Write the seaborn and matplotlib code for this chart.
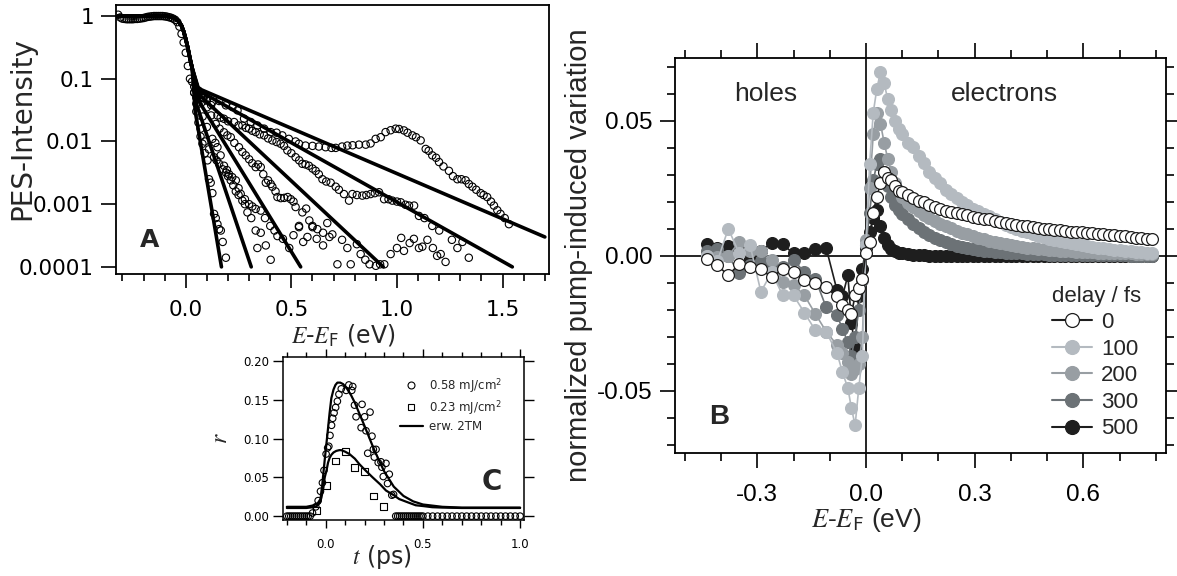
import numpy as np
import pandas as pd
import seaborn as sns
import matplotlib.pyplot as plt
from matplotlib.lines import Line2D
from matplotlib.ticker import FixedLocator, FixedFormatter, MultipleLocator, NullLocator

# ---------------- panel A : PES spectra (log scale) ----------------
top_E = [-0.32, -0.31, -0.30, -0.29, -0.28, -0.27, -0.26, -0.25, -0.24, -0.23, -0.22, -0.21,
         -0.20, -0.19, -0.18, -0.17, -0.16, -0.15, -0.14, -0.13, -0.12, -0.11, -0.10, -0.09,
         -0.08, -0.07, -0.06, -0.05, -0.04, -0.03, -0.02, -0.01, 0.00, 0.01, 0.02]
top_I = [1.05, 0.95, 0.91, 0.90, 0.89, 0.89, 0.89, 0.89, 0.90, 0.90, 0.91, 0.92,
         0.93, 0.95, 0.97, 0.98, 0.99, 1.0, 1.0, 1.0, 1.0, 1.0, 0.99, 0.98,
         0.96, 0.94, 0.91, 0.87, 0.80, 0.68, 0.52, 0.38, 0.26, 0.16, 0.10]

spec1_E = [0.03, 0.04, 0.05, 0.06, 0.07, 0.079, 0.09, 0.103, 0.11, 0.118, 0.126, 0.134, 0.142,
           0.15, 0.158, 0.166, 0.175, 0.19]
spec1_I = [0.09, 0.06, 0.03, 0.02, 0.012, 0.0092, 0.0065, 0.005, 0.0025, 0.0022, 0.0015, 0.0007,
           0.0006, 0.00048, 0.0004, 0.00038, 0.00025, 0.00014]

spec2_E = [0.04, 0.05, 0.07, 0.09, 0.11, 0.134, 0.146, 0.158, 0.175, 0.19, 0.2, 0.213, 0.225,
           0.237, 0.25, 0.268, 0.28, 0.292, 0.31, 0.331, 0.339, 0.355, 0.379, 0.402]
spec2_I = [0.06, 0.04, 0.016, 0.01, 0.0075, 0.0056, 0.005, 0.0044, 0.0036, 0.0032, 0.0028, 0.0024,
           0.002, 0.0016, 0.0014, 0.00114, 0.001, 0.00074, 0.0006, 0.00038, 0.0002, 0.00035,
           0.00022, 0.00013]

spec3_E = [0.05, 0.06, 0.08, 0.1, 0.126, 0.14, 0.15, 0.165, 0.181, 0.195, 0.205, 0.22, 0.237,
           0.25, 0.26, 0.28, 0.3, 0.315, 0.331, 0.355, 0.375, 0.4, 0.42, 0.434, 0.46, 0.49,
           0.51, 0.536, 0.556, 0.576, 0.6, 0.62, 0.65, 0.68]
spec3_I = [0.05, 0.04, 0.025, 0.017, 0.011, 0.0095, 0.0081, 0.006, 0.0041, 0.0035, 0.003, 0.0027,
           0.0024, 0.0018, 0.00146, 0.0012, 0.001, 0.00092, 0.00084, 0.00079, 0.0006, 0.00045,
           0.00038, 0.00031, 0.00028, 0.0002, 0.00032, 0.00043, 0.00025, 0.0003, 0.00043,
           0.00028, 0.00022, 0.0003]

spec4_E = [0.06, 0.08, 0.1, 0.12, 0.142, 0.16, 0.181, 0.197, 0.213, 0.23, 0.252, 0.268, 0.284,
           0.3, 0.315, 0.331, 0.342, 0.355, 0.367, 0.379, 0.39, 0.402, 0.41, 0.425, 0.434, 0.45,
           0.466, 0.482, 0.497, 0.51, 0.52, 0.536, 0.552, 0.57, 0.585, 0.6, 0.623, 0.65, 0.67,
           0.694, 0.718, 0.74, 0.765, 0.781, 0.81, 0.828, 0.85, 0.87, 0.9, 0.92, 0.94, 0.97,
           1.0, 1.02, 1.033, 1.06, 1.08, 1.104, 1.12, 1.144, 1.17, 1.19, 1.207, 1.23, 1.26,
           1.286, 1.31, 1.34]
spec4_I = [0.065, 0.05, 0.035, 0.026, 0.019, 0.016, 0.014, 0.0125, 0.0117, 0.0095, 0.0081,
           0.0068, 0.006, 0.0052, 0.0045, 0.0039, 0.0043, 0.0039, 0.003, 0.0022, 0.0024,
           0.0021, 0.0019, 0.0016, 0.0013, 0.00125, 0.00126, 0.0013, 0.0012, 0.0011, 0.0009,
           0.00045, 0.00074, 0.00085, 0.00055, 0.00045, 0.0004, 0.00035, 0.0005, 0.00033,
           0.00011, 0.00027, 0.0002, 0.00011, 0.00023, 0.00016, 0.00013, 0.00011, 0.000104,
           0.00011, 0.00011, 0.00016, 0.0002, 0.00029, 0.00018, 0.00024, 0.00028, 0.0002,
           0.00021, 0.00027, 0.0002, 0.00015, 0.00016, 0.00012, 0.00027, 0.0002, 0.00025,
           0.00014]

spec5_E = [0.07, 0.085, 0.10, 0.12, 0.15, 0.165, 0.181, 0.2, 0.229, 0.25, 0.268, 0.285, 0.3,
           0.315, 0.331, 0.35, 0.371, 0.39, 0.41, 0.43, 0.449, 0.465, 0.481, 0.5, 0.52, 0.537,
           0.552, 0.567, 0.583, 0.6, 0.615, 0.63, 0.647, 0.665, 0.686, 0.71, 0.725, 0.749,
           0.773, 0.789, 0.81, 0.836, 0.855, 0.875, 0.895, 0.915, 0.939, 0.96, 0.978, 1.0,
           1.018, 1.04, 1.057, 1.081, 1.104, 1.13, 1.167, 1.2]
spec5_I = [0.055, 0.05, 0.045, 0.038, 0.026, 0.024, 0.023, 0.021, 0.0204, 0.018, 0.018, 0.0165,
           0.016, 0.0148, 0.0141, 0.013, 0.0125, 0.0112, 0.0104, 0.0098, 0.0092, 0.0085,
           0.0072, 0.0065, 0.0056, 0.005, 0.0044, 0.0043, 0.0041, 0.0037, 0.0034, 0.003,
           0.0025, 0.0023, 0.0022, 0.0019, 0.0017, 0.00145, 0.00114, 0.00145, 0.0014, 0.00137,
           0.0014, 0.00145, 0.0015, 0.00155, 0.0012, 0.0012, 0.00114, 0.0011, 0.00107,
           0.00098, 0.00095, 0.00095, 0.00065, 0.0006, 0.00045, 0.00038]

spec6_E = [0.04, 0.06, 0.08, 0.10, 0.126, 0.158, 0.19, 0.221, 0.245, 0.276, 0.308, 0.339,
           0.371, 0.402, 0.43, 0.457, 0.488, 0.52, 0.536, 0.567, 0.6, 0.63, 0.662, 0.69, 0.71,
           0.74, 0.765, 0.79, 0.82, 0.852, 0.875, 0.899, 0.923, 0.946, 0.97, 0.994, 1.01, 1.033,
           1.05, 1.073, 1.09, 1.112, 1.136, 1.15, 1.167, 1.185, 1.199, 1.22, 1.246, 1.265,
           1.286, 1.305, 1.325, 1.34, 1.357, 1.375, 1.396, 1.41, 1.427, 1.445, 1.459, 1.475,
           1.49, 1.51, 1.53]
spec6_I = [0.075, 0.055, 0.05, 0.047, 0.0426, 0.0442, 0.0377, 0.0354, 0.0313, 0.0231, 0.0204,
           0.018, 0.016, 0.0141, 0.0138, 0.0125, 0.011, 0.010, 0.0092, 0.0086, 0.0085, 0.0083,
           0.0081, 0.0079, 0.0079, 0.0083, 0.0086, 0.0087, 0.0089, 0.0089, 0.0093, 0.011,
           0.0117, 0.0141, 0.0151, 0.016, 0.0158, 0.015, 0.0138, 0.0125, 0.0117, 0.0104,
           0.0076, 0.0071, 0.006, 0.0055, 0.0047, 0.004, 0.0034, 0.0028, 0.0025, 0.0025,
           0.0024, 0.0021, 0.0019, 0.0017, 0.0015, 0.0014, 0.0013, 0.0011, 0.00095, 0.0008,
           0.0007, 0.0006, 0.00048]

# fitted distributions: common Fermi edge, then knee and end point of each tail
fitedge_E = [-0.32, -0.10, -0.07, -0.05, -0.035, -0.02, -0.01, 0.0, 0.01, 0.02, 0.03]
fitedge_I = [1.0, 1.0, 0.97, 0.92, 0.84, 0.70, 0.57, 0.43, 0.31, 0.21, 0.15]
fit_knee_E = [0.045, 0.05, 0.06, 0.065, 0.06, 0.06]
fit_knee_I = [0.03, 0.04, 0.045, 0.055, 0.065, 0.07]
fit_end_E = [0.169, 0.31, 0.544, 0.935, 1.546, 1.70]
fit_end_I = [1e-4, 1e-4, 1e-4, 1e-4, 1e-4, 3.0e-4]

# ---------------- panel C : r(t) ----------------
hi_t = [-0.20, -0.19, -0.18, -0.17, -0.16, -0.15, -0.14, -0.13, -0.12, -0.11, -0.10, -0.09,
        -0.08, -0.068, -0.051, -0.039, -0.027, -0.017, -0.009, 0.002, 0.010, 0.016, 0.022,
        0.030, 0.036, 0.043, 0.051, 0.060, 0.068, 0.080, 0.105, 0.119, 0.134, 0.139, 0.148,
        0.156, 0.182, 0.187, 0.200, 0.207, 0.216, 0.228, 0.238, 0.245, 0.250, 0.259, 0.270,
        0.284, 0.289, 0.296, 0.310, 0.318, 0.327, 0.340, 0.349,
        0.36, 0.37, 0.38, 0.39, 0.40, 0.41, 0.42, 0.43, 0.44, 0.45, 0.46, 0.47, 0.48, 0.49, 0.50,
        0.525, 0.55, 0.575, 0.60, 0.625, 0.65, 0.675, 0.70, 0.725, 0.75, 0.775, 0.80, 0.825,
        0.85, 0.875, 0.90, 0.925, 0.95, 0.975, 1.0]
hi_r = [0.0, 0.0, 0.0, 0.0, 0.0, 0.0, 0.0, 0.0, 0.0, 0.0, 0.0, 0.0,
        0.0, 0.004, 0.012, 0.020, 0.032, 0.043, 0.059, 0.080, 0.088, 0.090, 0.104,
        0.117, 0.126, 0.133, 0.140, 0.148, 0.157, 0.164, 0.162, 0.169, 0.162, 0.167, 0.143,
        0.128, 0.114, 0.144, 0.128, 0.110, 0.081, 0.134, 0.103, 0.086, 0.076, 0.086, 0.069,
        0.070, 0.063, 0.051, 0.068, 0.042, 0.054, 0.027, 0.028,
        0.0, 0.0, 0.0, 0.0, 0.0, 0.0, 0.0, 0.0, 0.0, 0.0, 0.0, 0.0, 0.0, 0.0, 0.0,
        0.0, 0.0, 0.0, 0.0, 0.0, 0.0, 0.0, 0.0, 0.0, 0.0, 0.0, 0.0, 0.0,
        0.0, 0.0, 0.0, 0.0, 0.0, 0.0, 0.0]
lo_t = [-0.048, 0.003, 0.049, 0.100, 0.150, 0.199, 0.247, 0.298]
lo_r = [0.007, 0.039, 0.071, 0.083, 0.063, 0.058, 0.026, 0.012]

fit_hi_t = [-0.2, -0.1, -0.06, -0.04, -0.027, -0.018, -0.009, 0.0, 0.009, 0.02, 0.029, 0.04,
            0.05, 0.06, 0.075, 0.09, 0.11, 0.13, 0.15, 0.2, 0.25, 0.3, 0.35, 0.4, 0.45, 0.5,
            0.6, 0.7, 0.8, 1.0]
fit_hi_r = [0.012, 0.012, 0.014, 0.017, 0.022, 0.04, 0.063, 0.085, 0.106, 0.133, 0.152, 0.163,
            0.169, 0.172, 0.172, 0.170, 0.164, 0.156, 0.146, 0.116, 0.085, 0.058, 0.038, 0.026,
            0.019, 0.015, 0.012, 0.011, 0.011, 0.011]
fit_lo_t = [-0.2, -0.1, -0.05, -0.03, -0.022, -0.012, -0.005, 0.005, 0.012, 0.02, 0.029, 0.04,
            0.054, 0.07, 0.08, 0.1, 0.122, 0.15, 0.173, 0.2, 0.241, 0.28, 0.31, 0.35, 0.378,
            0.42, 0.463, 0.5, 0.548, 0.6, 0.7, 0.8, 1.0]
fit_lo_r = [0.0105, 0.0105, 0.012, 0.017, 0.024, 0.037, 0.05, 0.06, 0.069, 0.075, 0.079, 0.082,
            0.084, 0.085, 0.085, 0.083, 0.080, 0.074, 0.067, 0.06, 0.05, 0.041, 0.033, 0.027,
            0.022, 0.018, 0.014, 0.013, 0.0115, 0.011, 0.0105, 0.0105, 0.0105]

# ---------------- panel B : pump-induced variation ----------------
E_B = [-0.44, -0.41, -0.38, -0.35, -0.32, -0.29, -0.26, -0.23, -0.20, -0.17, -0.14, -0.11,
       -0.08, -0.065, -0.05, -0.04, -0.03, -0.02, -0.01,
       0.0, 0.01, 0.02, 0.03, 0.04, 0.05, 0.06, 0.07, 0.08, 0.09, 0.10,
       0.115, 0.13, 0.145, 0.16, 0.175, 0.19, 0.205, 0.22, 0.235, 0.25, 0.265, 0.28, 0.295,
       0.31, 0.325, 0.34, 0.355, 0.37, 0.385, 0.40, 0.415, 0.43, 0.445, 0.46, 0.475, 0.49,
       0.505, 0.52, 0.535, 0.55, 0.565, 0.58, 0.595, 0.61, 0.625, 0.64, 0.655, 0.67, 0.685,
       0.70, 0.715, 0.73, 0.745, 0.76, 0.775, 0.79]
var_0 = [-0.001, -0.0035, -0.0072, -0.003, -0.004, -0.005, -0.0078, -0.005, -0.006, -0.009,
         -0.010, -0.0115, -0.015, -0.0183, -0.020, -0.0214, -0.0146, -0.012, -0.0084,
         0.001, 0.005, 0.016, 0.022, 0.027, 0.031, 0.029, 0.028, 0.026, 0.024, 0.0235,
         0.0225, 0.0215, 0.0205, 0.0198, 0.0188, 0.0182, 0.0175, 0.0168, 0.0163, 0.016,
         0.0155, 0.015, 0.0145, 0.0142, 0.0138, 0.0135, 0.013, 0.0126, 0.0122, 0.0118,
         0.0115, 0.0112, 0.011, 0.0106, 0.0103, 0.010, 0.0098, 0.0097, 0.0095, 0.0093,
         0.009, 0.0088, 0.0087, 0.0085, 0.0084, 0.0082, 0.008, 0.0078, 0.0077, 0.0075,
         0.0073, 0.0071, 0.0068, 0.0066, 0.0064, 0.0062]
var_100 = [0.0, -0.002, 0.0101, 0.001, 0.004, -0.0133, -0.006, -0.0146, -0.0146, -0.021,
           -0.0275, -0.028, -0.036, -0.043, -0.049, -0.0565, -0.0627, -0.049, -0.037,
           0.004, 0.034, 0.053, 0.062, 0.068, 0.064, 0.058, 0.054, 0.050, 0.047, 0.045,
           0.042, 0.0405, 0.037, 0.0345, 0.031, 0.029, 0.027, 0.0245, 0.023, 0.0215, 0.020,
           0.019, 0.0175, 0.0165, 0.0155, 0.0147, 0.0138, 0.0125, 0.0115, 0.0107, 0.010,
           0.0094, 0.0088, 0.0081, 0.0075, 0.0069, 0.0064, 0.006, 0.0055, 0.005, 0.0047,
           0.0043, 0.004, 0.0037, 0.0034, 0.0031, 0.0028, 0.0026, 0.0023, 0.0021, 0.0019,
           0.0017, 0.0015, 0.0013, 0.0011, 0.001]
var_200 = [0.0, -0.0004, 0.0, 0.0052, 0.002, 0.002, -0.0016, -0.0096, -0.0109, -0.0146,
           -0.0214, -0.028, -0.033, -0.036, -0.0393, -0.0436, -0.042, -0.040, -0.030,
           0.006, 0.025, 0.045, 0.053, 0.049, 0.042, 0.036, 0.031, 0.027, 0.024, 0.022,
           0.0195, 0.018, 0.0165, 0.015, 0.014, 0.013, 0.012, 0.011, 0.0102, 0.0094, 0.0086,
           0.008, 0.0074, 0.0068, 0.0062, 0.0057, 0.0052, 0.0048, 0.0044, 0.004, 0.0037,
           0.0034, 0.0031, 0.0029, 0.0027, 0.0025, 0.0023, 0.0021, 0.002, 0.0019, 0.0017,
           0.0016, 0.0015, 0.0014, 0.0013, 0.0012, 0.0012, 0.0011, 0.001, 0.001, 0.0009,
           0.0009, 0.0008, 0.0008, 0.0007, 0.0007]
var_300 = [0.002, 0.0027, 0.0, -0.0065, -0.0035, -0.002, -0.004, -0.004, -0.0016, -0.006,
           -0.0084, -0.019, -0.022, -0.027, -0.032, -0.037, -0.030, -0.020, -0.009,
           0.004, 0.016, 0.028, 0.034, 0.036, 0.031, 0.026, 0.022, 0.019, 0.017, 0.0155,
           0.0135, 0.0118, 0.0103, 0.009, 0.0078, 0.0068, 0.006, 0.0052, 0.0045, 0.0038,
           0.0033, 0.0028, 0.0024, 0.0021, 0.0019, 0.0017, 0.0015, 0.0013, 0.0012, 0.0011,
           0.001, 0.0009, 0.0008, 0.0007, 0.0006, 0.0006, 0.0005, 0.0005, 0.0004, 0.0004,
           0.0004, 0.0003, 0.0003, 0.0003, 0.0003, 0.0002, 0.0002, 0.0002, 0.0002, 0.0002,
           0.0002, 0.0001, 0.0001, 0.0001, 0.0001, 0.0001]
var_500 = [0.0043, 0.003, 0.0037, 0.0021, -0.001, 0.002, 0.0049, 0.0043, 0.0009, 0.0012,
           0.0027, 0.003, -0.0127, -0.015, -0.0072, -0.025, -0.034, -0.015, -0.0047,
           0.003, 0.009, 0.014, 0.017, 0.011, 0.0065, 0.004, 0.0027, 0.0018, 0.0012, 0.0009,
           0.0006, 0.0004, 0.0003, 0.0002, 0.0001, 0.0001, 0.0, 0.0, -0.0001, 0.0, 0.0,
           -0.0001, 0.0, 0.0, 0.0001, -0.0001, 0.0, 0.0, 0.0001, 0.0, 0.0, -0.0001, 0.0,
           0.0, 0.0, 0.0001, 0.0, 0.0, -0.0001, 0.0, 0.0, 0.0, 0.0001, 0.0, 0.0, 0.0,
           -0.0001, 0.0, 0.0, 0.0, 0.0001, 0.0, 0.0, 0.0, 0.0, 0.0]
delays = ['0', '100', '200', '300', '500']
delay_fill = ['white', '#b4bac0', '#989ea3', '#6c7276', '#1e1e1e']
delay_line = ['#1e1e1e', '#b4bac0', '#989ea3', '#6c7276', '#1e1e1e']

sns.set_theme(style="ticks")
plt.rcParams['font.family'] = ['DejaVu Sans']
plt.rcParams['mathtext.fontset'] = 'custom'
plt.rcParams['mathtext.it'] = 'STIXGeneral:italic'
plt.rcParams['mathtext.rm'] = 'STIXGeneral'
plt.rcParams['mathtext.sf'] = 'DejaVu Sans'
plt.rcParams['axes.unicode_minus'] = False
plt.rcParams['axes.edgecolor'] = 'black'
plt.rcParams['xtick.color'] = 'black'
plt.rcParams['ytick.color'] = 'black'

fig = plt.figure(figsize=(11.77, 5.76), dpi=100)
axA = fig.add_axes([0.0986, 0.5243, 0.3679, 0.467])
axC = fig.add_axes([0.2404, 0.0972, 0.2048, 0.283])
axB = fig.add_axes([0.5735, 0.2135, 0.4172, 0.6858])

# ---- A ----
axA.set_yscale('log')
for E, I in [(top_E, top_I), (spec1_E, spec1_I), (spec2_E, spec2_I), (spec3_E, spec3_I),
             (spec4_E, spec4_I), (spec5_E, spec5_I), (spec6_E, spec6_I)]:
    sns.scatterplot(x=E, y=I, ax=axA, marker='o', s=28, linewidth=0.8,
                    edgecolor='black', legend=False, zorder=2)
    axA.collections[-1].set_facecolor('none')
for kE, kI, eE, eI in zip(fit_knee_E, fit_knee_I, fit_end_E, fit_end_I):
    sns.lineplot(x=fitedge_E + [kE, eE], y=fitedge_I + [kI, eI], ax=axA, color='black',
                 lw=2.6, sort=False, estimator=None, zorder=3)
axA.set_xlim(-0.33, 1.72)
axA.set_ylim(7.7e-5, 1.5)
axA.yaxis.set_major_locator(FixedLocator([1e-4, 1e-3, 1e-2, 1e-1, 1]))
axA.yaxis.set_major_formatter(FixedFormatter(['0.0001', '0.001', '0.01', '0.1', '1']))
axA.yaxis.set_minor_locator(NullLocator())
axA.xaxis.set_major_locator(MultipleLocator(0.5))
axA.xaxis.set_minor_locator(MultipleLocator(0.1))
axA.tick_params(axis='x', which='major', direction='out', length=10, width=1.2, pad=9, labelsize=15.5)
axA.tick_params(axis='x', which='minor', direction='out', length=5, width=1.2)
axA.tick_params(axis='y', which='major', direction='out', length=11, width=1.2, pad=5, labelsize=15.5)
for sp in axA.spines.values():
    sp.set_linewidth(1.3)
axA.set_xlabel(r'$E$-$E_{\mathsf{F}}$ (eV)', fontsize=17)
axA.xaxis.set_label_coords(0.525, -0.18)
axA.set_ylabel('PES-Intensity', fontsize=20)
axA.yaxis.set_label_coords(-0.185, 0.54)
axA.text(0.078, 0.126, 'A', transform=axA.transAxes, fontsize=18, fontweight='bold',
         ha='center', va='center')

# ---- C ----
sns.scatterplot(x=hi_t, y=hi_r, ax=axC, marker='o', s=22, linewidth=0.8,
                edgecolor='black', legend=False, zorder=2)
axC.collections[-1].set_facecolor('none')
sns.scatterplot(x=lo_t, y=lo_r, ax=axC, marker='s', s=24, linewidth=0.8,
                edgecolor='black', legend=False, zorder=2)
axC.collections[-1].set_facecolor('none')
sns.lineplot(x=fit_hi_t, y=fit_hi_r, ax=axC, color='black', lw=1.6, sort=False, estimator=None, zorder=3)
sns.lineplot(x=fit_lo_t, y=fit_lo_r, ax=axC, color='black', lw=1.6, sort=False, estimator=None, zorder=3)
axC.set_xlim(-0.22, 1.02)
axC.set_ylim(-0.005, 0.205)
axC.xaxis.set_major_locator(MultipleLocator(0.5))
axC.xaxis.set_minor_locator(MultipleLocator(0.1))
axC.yaxis.set_major_locator(MultipleLocator(0.05))
axC.tick_params(which='both', direction='out', top=True, right=True, width=1.0, labelsize=8.5)
axC.tick_params(axis='x', which='major', length=6, pad=7)
axC.tick_params(axis='x', which='minor', length=3.5)
axC.tick_params(axis='y', which='major', length=7, pad=3)
for sp in axC.spines.values():
    sp.set_linewidth(1.1)
axC.set_xlabel(r'$t$ (ps)', fontsize=17, labelpad=0)
axC.xaxis.set_label_coords(0.41, -0.14)
axC.set_ylabel(r'$r$', fontsize=17, labelpad=8)
axC.text(0.866, 0.235, 'C', transform=axC.transAxes, fontsize=20, fontweight='bold',
         ha='center', va='center')
hC = [Line2D([], [], ls='none', marker='o', mfc='none', mec='black', ms=5, mew=0.8),
      Line2D([], [], ls='none', marker='s', mfc='none', mec='black', ms=5, mew=0.8),
      Line2D([], [], color='black', lw=1.6)]
axC.legend(hC, [r'0.58 mJ/cm$^{\mathsf{2}}$', r'0.23 mJ/cm$^{\mathsf{2}}$', 'erw. 2TM'],
           loc='upper right', bbox_to_anchor=(0.945, 0.935), frameon=False, fontsize=8.5,
           handlelength=2.0, handletextpad=0.5, labelspacing=0.3, borderaxespad=0.3)

# ---- B ----
vals = [var_0, var_100, var_200, var_300, var_500]
handles = {}
for i in [4, 3, 2, 1, 0]:
    edge = '#1e1e1e' if i == 0 else delay_fill[i]
    sns.lineplot(x=E_B, y=vals[i], ax=axB, color=delay_line[i], lw=1.2, marker='o', ms=8.5,
                 mfc=delay_fill[i], mec=edge, mew=0.9, sort=False, estimator=None,
                 zorder=3 + (4 - i))
    handles[i] = Line2D([], [], color=delay_line[i], lw=1.5, marker='o', ms=10,
                        mfc=delay_fill[i], mec=edge, mew=0.9)
axB.axhline(0, color='black', lw=1.2, zorder=2)
axB.axvline(0, color='black', lw=1.2, zorder=2)
axB.set_xlim(-0.527, 0.828)
axB.set_ylim(-0.073, 0.0733)
axB.xaxis.set_major_locator(MultipleLocator(0.3))
axB.xaxis.set_minor_locator(MultipleLocator(0.1))
axB.yaxis.set_major_locator(MultipleLocator(0.05))
axB.yaxis.set_minor_locator(MultipleLocator(0.01))
axB.tick_params(which='both', direction='out', top=True, right=True, width=1.2,
                labelsize=17.5, labelfontfamily='Liberation Sans')
axB.tick_params(which='major', length=11)
axB.tick_params(which='minor', length=5.5)
axB.tick_params(axis='x', which='major', pad=11)
axB.tick_params(axis='y', which='major', pad=5)
for sp in axB.spines.values():
    sp.set_linewidth(1.3)
axB.set_xlabel(r'$E$-$E_{\mathsf{F}}$ (eV)', fontsize=19, family='Liberation Sans')
axB.xaxis.set_label_coords(0.389, -0.135)
axB.set_ylabel('normalized pump-induced variation', fontsize=21, family='Liberation Sans')
axB.yaxis.set_label_coords(-0.168, 0.5)
axB.text(0.185, 0.909, 'holes', transform=axB.transAxes, fontsize=19, family='Liberation Sans',
         ha='center', va='center')
axB.text(0.67, 0.909, 'electrons', transform=axB.transAxes, fontsize=19, family='Liberation Sans',
         ha='center', va='center')
axB.text(0.09, 0.091, 'B', transform=axB.transAxes, fontsize=20, family='Liberation Sans',
         fontweight='bold', ha='center', va='center')
legB = axB.legend([handles[i] for i in range(5)], delays, title='delay / fs', loc='upper left',
                  bbox_to_anchor=(0.745, 0.452), frameon=False,
                  handlelength=1.8, handletextpad=0.4, labelspacing=0.25, borderpad=0,
                  alignment='left', prop={'family': 'Liberation Sans', 'size': 16})
legB.get_title().set_family('Liberation Sans')
legB.get_title().set_fontsize(16)

fig.savefig('out.png', dpi=100)
